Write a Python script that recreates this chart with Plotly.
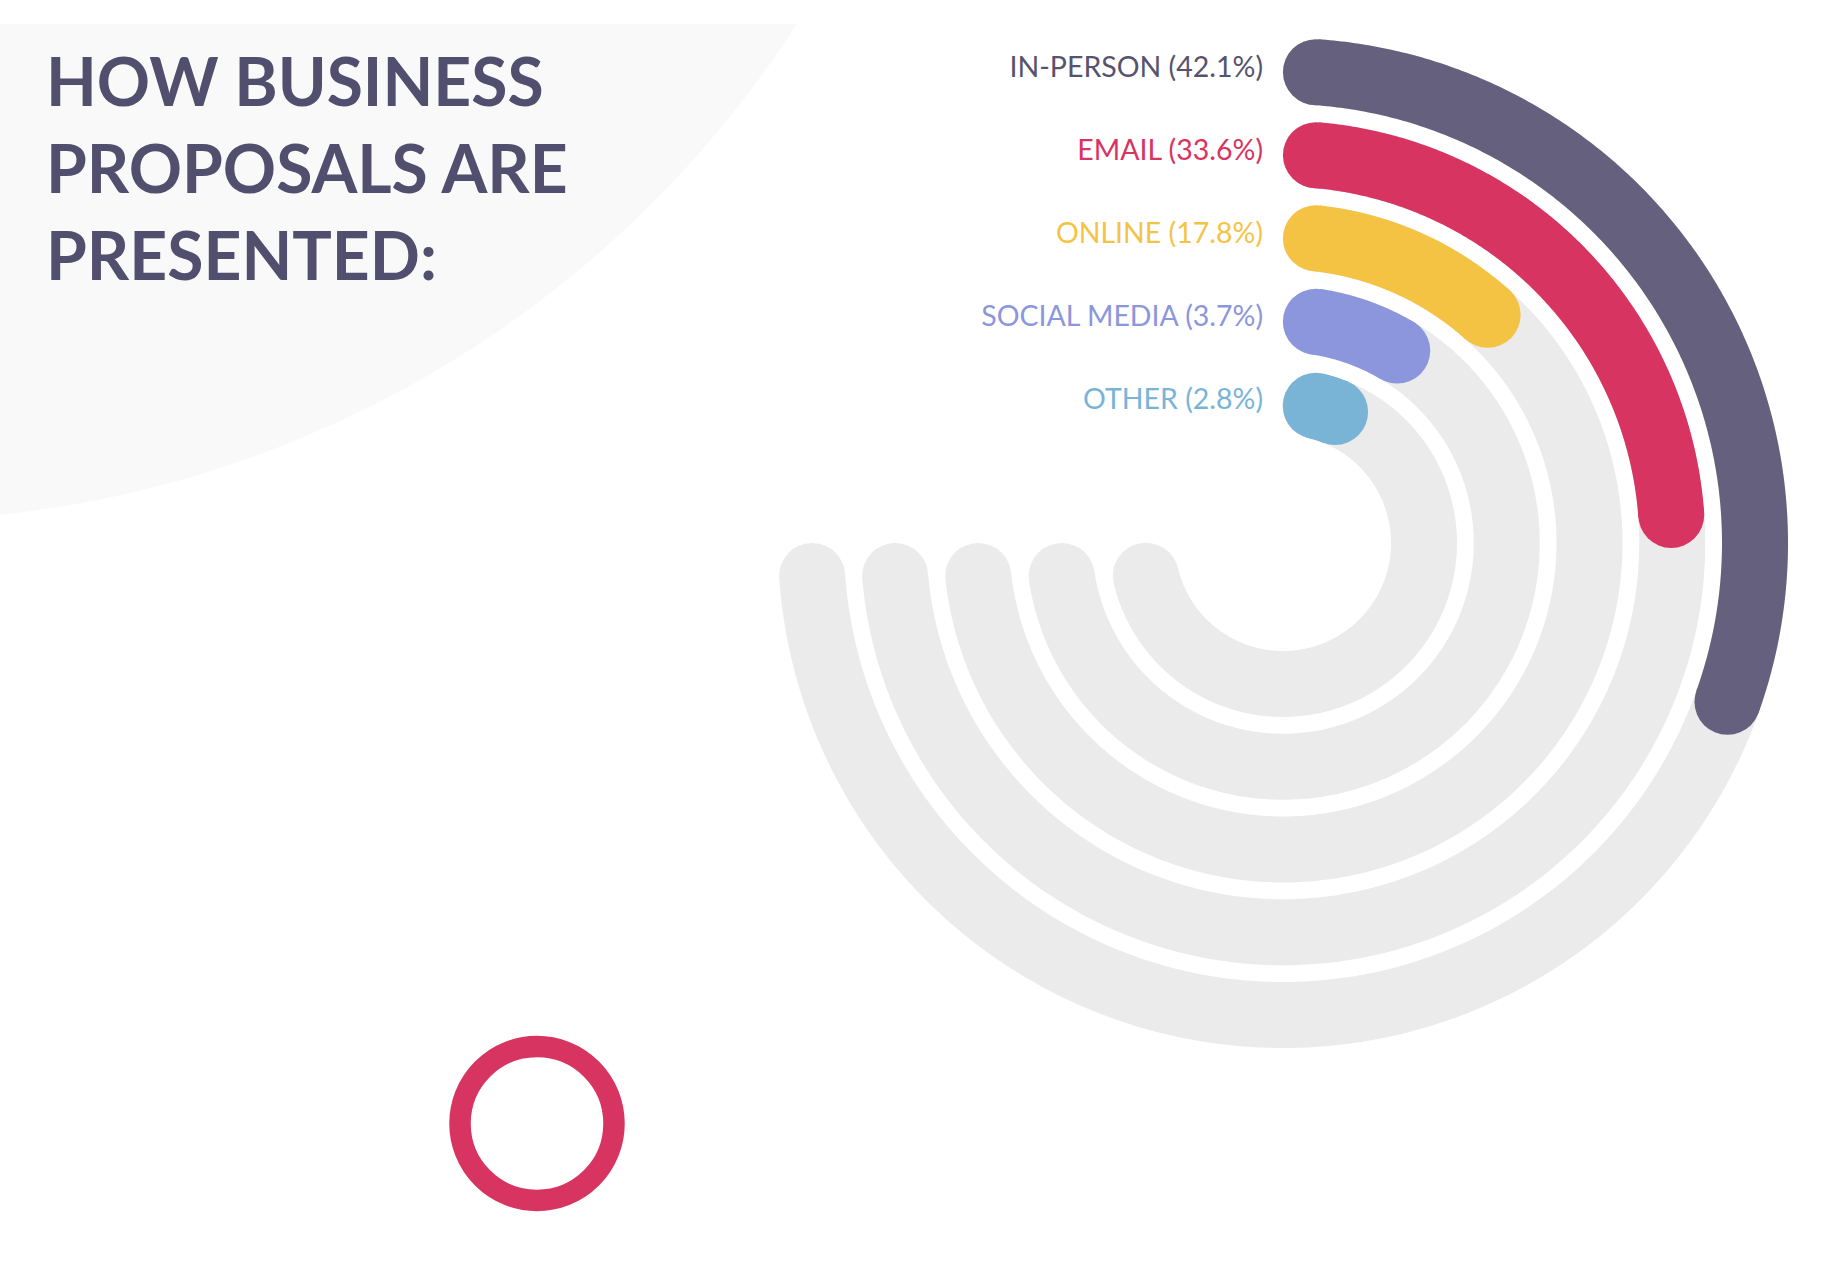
import numpy as np
import plotly.graph_objects as go

# ---------------- data ----------------
categories = ["IN-PERSON", "EMAIL", "ONLINE", "SOCIAL MEDIA", "OTHER"]
shares = [42.1, 33.6, 17.8, 3.7, 2.8]
# sweep actually drawn in the original graphic (in % of the 270-degree track);
# the two smallest bars are drawn longer than their share so they stay visible
drawn_extent = [42.1, 33.6, 17.8, 14.5, 13.0]
bar_colors = ["#64607d", "#d83461", "#f5c344", "#8b96dc", "#79b4d7"]
label_colors = ["#57536f", "#d83461", "#f5c344", "#8b96dc", "#79b4d7"]
title_lines = ["HOW BUSINESS", "PROPOSALS ARE", "PRESENTED:"]

# ---------------- layout constants (pixels) ----------------
W, H = 1842, 1284
CX, CY = 1283, 543          # centre of the radial chart
R_PLOT = 520                # radius of the polar plotting area
TRACK_W = 66                # ring thickness
R_INNER = 141               # centre-line radius of the innermost ring
STEP = 82.75                # distance between rings
SWEEP = 270.0               # full track = 100 %
LABEL_GAP = 20
TRACK_GRAY = "#ebebeb"
TITLE_COLOR = "#524e6e"

n = len(categories)
radii = [R_INNER + STEP * (n - 1 - i) for i in range(n)]


def arc(r, pct):
    cap = np.degrees((TRACK_W / 2) / r)
    t0 = cap
    t1 = max(pct / 100.0 * SWEEP - cap, cap)
    return np.linspace(t0, t1, 240)


fig = go.Figure()

# invisible trace so the pixel canvas axes exist
fig.add_trace(go.Scatter(x=[], y=[], xaxis="x", yaxis="y", showlegend=False))

# grey background tracks
for r in radii:
    th = arc(r, 100.0)
    fig.add_trace(go.Scatterpolar(r=[r] * len(th), theta=th, mode="lines",
                                  line=dict(color=TRACK_GRAY, width=TRACK_W),
                                  hoverinfo="skip", showlegend=False))
    fig.add_trace(go.Scatterpolar(r=[r, r], theta=[th[0], th[-1]], mode="markers",
                                  marker=dict(size=TRACK_W, color=TRACK_GRAY, line=dict(width=0)),
                                  hoverinfo="skip", showlegend=False))

# coloured bars
for cat, v, ext, r, col in zip(categories, shares, drawn_extent, radii, bar_colors):
    th = arc(r, ext)
    fig.add_trace(go.Scatterpolar(r=[r] * len(th), theta=th, mode="lines",
                                  line=dict(color=col, width=TRACK_W),
                                  name=cat, hoverinfo="skip", showlegend=False))
    fig.add_trace(go.Scatterpolar(r=[r, r], theta=[th[0], th[-1]], mode="markers",
                                  marker=dict(size=TRACK_W, color=col, line=dict(width=0)),
                                  name=cat, text=[f"{cat}: {v}%"] * 2, hoverinfo="text",
                                  showlegend=False))

# labels (placed at the start of each bar, slightly raised above the ring centre line)
LABEL_RAISE = 1.5
lab_r, lab_t = [], []
for r in radii:
    rr = r + LABEL_RAISE
    lab_r.append(rr)
    lab_t.append(-np.degrees(LABEL_GAP / rr))
fig.add_trace(go.Scatterpolar(
    r=lab_r, theta=lab_t,
    mode="text",
    text=[f"{c} ({v}%)" for c, v in zip(categories, shares)],
    textposition="middle left",
    textfont=dict(family="Lato", size=28.5, color=label_colors),
    hoverinfo="skip", showlegend=False))

# background decoration: pale circular segment top-left
BG_CX, BG_CY, BG_R, BG_TOP = -115, -564, 1085, 24
x_top = BG_CX + np.sqrt(BG_R**2 - (BG_TOP - BG_CY) ** 2)
y_left = BG_CY + np.sqrt(BG_R**2 - BG_CX**2)
a0 = np.arctan2(BG_TOP - BG_CY, x_top - BG_CX)
a1 = np.arctan2(y_left - BG_CY, 0 - BG_CX)
angs = np.linspace(a0, a1, 120)
pts = [(BG_CX + BG_R * np.cos(a), BG_CY + BG_R * np.sin(a)) for a in angs]
path = f"M 0 {BG_TOP} L {x_top:.1f} {BG_TOP} " + " ".join(f"L {x:.1f} {y:.1f}" for x, y in pts) + " Z"

# red ring decoration
RING_CX, RING_CY, RING_R, RING_W = 537, 1123.5, 77, 21.5

shapes = [
    dict(type="path", path=path, xref="x", yref="y", fillcolor="#f9f9f9",
         line=dict(width=0), layer="below"),
    dict(type="circle", xref="x", yref="y", x0=RING_CX - RING_R, x1=RING_CX + RING_R,
         y0=RING_CY - RING_R, y1=RING_CY + RING_R, line=dict(color="#d83461", width=RING_W),
         fillcolor="rgba(0,0,0,0)", layer="above"),
]

annotations = []
TITLE_X, TITLE_Y0, TITLE_PITCH = 44, 80, 87
for k, line in enumerate(title_lines):
    annotations.append(dict(text=f"<b>{line}</b>", x=TITLE_X, y=TITLE_Y0 + k * TITLE_PITCH,
                            xref="x", yref="y", xanchor="left", yanchor="middle",
                            showarrow=False,
                            font=dict(family="Lato", size=66, color=TITLE_COLOR)))

fig.update_layout(
    width=W, height=H,
    margin=dict(l=0, r=0, t=0, b=0),
    paper_bgcolor="white", plot_bgcolor="rgba(0,0,0,0)",
    xaxis=dict(range=[0, W], domain=[0, 1], visible=False, fixedrange=True),
    yaxis=dict(range=[H, 0], domain=[0, 1], visible=False, fixedrange=True),
    polar=dict(
        domain=dict(x=[(CX - R_PLOT) / W, (CX + R_PLOT) / W],
                    y=[(H - CY - R_PLOT) / H, (H - CY + R_PLOT) / H]),
        bgcolor="rgba(0,0,0,0)",
        radialaxis=dict(range=[0, R_PLOT], visible=False, showgrid=False),
        angularaxis=dict(rotation=90, direction="clockwise", visible=False, showgrid=False),
    ),
    shapes=shapes,
    annotations=annotations,
    showlegend=False,
)

fig.write_html("out.html")
